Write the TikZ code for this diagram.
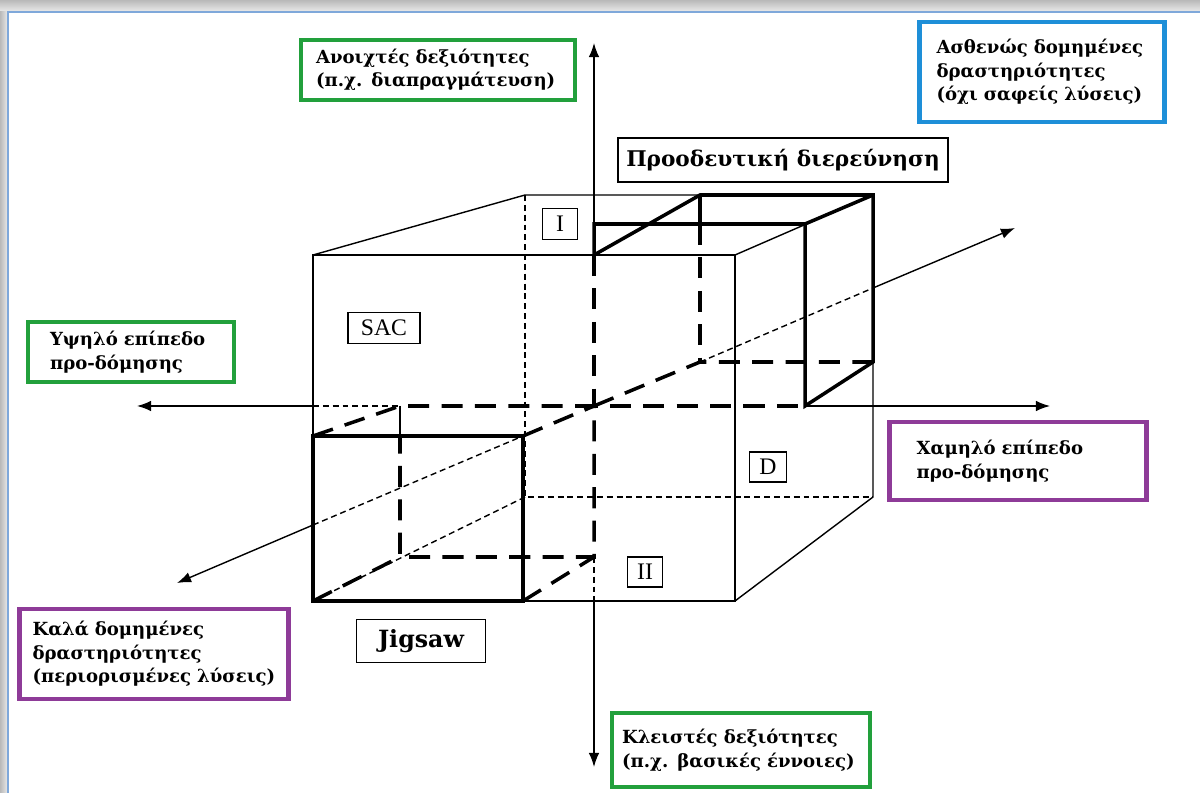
\documentclass[tikz,border=0pt]{standalone}
\usepackage{fontspec}
\setmainfont{DejaVu Serif}
\newfontfamily\quadfont{Liberation Serif}
\usetikzlibrary{arrows.meta}
\definecolor{boxgreen}{HTML}{22A03C}
\definecolor{boxblue}{HTML}{1E8FD8}
\definecolor{boxpurple}{HTML}{8E3B98}
\definecolor{frameblue}{HTML}{7FA8DA}

\tikzset{
  cubeline/.style={line width=0.8pt},
  cubehidden/.style={line width=0.8pt, dash pattern=on 3.4pt off 2.2pt},
  heavy/.style={line width=2pt},
  heavydash/.style={line width=2pt, dash pattern=on 12pt off 7pt},
  axis/.style={line width=0.8pt, -{Latex[length=8pt,width=6pt]}},
  legend/.style={draw, line width=2.4pt, fill=white, align=left,
    font=\bfseries\fontsize{10.3}{13.4}\selectfont},
  tag/.style={draw, line width=0.9pt, fill=white,
    font=\bfseries\fontsize{12.3}{15}\selectfont},
  quad/.style={draw, line width=0.7pt, inner sep=0pt,
    font=\quadfont\fontsize{13.5}{15}\selectfont},
}

\begin{document}
\begin{tikzpicture}[x=0.02cm, y=-0.02cm]
    \useasboundingbox (0,0) rectangle (1200,793);

    % Window frame
    \shade[top color=gray!55, bottom color=gray!15] (0,0) rectangle (1200,12);
    \shade[left color=gray!55, right color=gray!15] (0,12) rectangle (8,793);
    \draw[frameblue, line width=0.8pt] (8,793) -- (8,12) -- (1200,12);

    % Big cube corners
    \coordinate (FTL) at (313,255);
    \coordinate (FTR) at (735,255);
    \coordinate (FBR) at (735,601);
    \coordinate (FBL) at (313,601);
    \coordinate (BTL) at (525,195);
    \coordinate (BTR) at (873,195);
    \coordinate (BBR) at (873,497);
    \coordinate (BBL) at (525,497);

    % Axes ends
    \coordinate (O) at (594,406);
    \coordinate (AU) at (594,43);
    \coordinate (AD) at (594,767);
    \coordinate (AL) at (137,406);
    \coordinate (AR) at (1050,406);
    \coordinate (AN) at (177,583);
    \coordinate (AF) at (1015,228);
    \coordinate (DN) at (313,525);
    \coordinate (DF) at (873,288);

    % Jigsaw cube corners
    \coordinate (jFTL) at (313,436);
    \coordinate (jFTR) at (523,436);
    \coordinate (jFBR) at (523,601);
    \coordinate (jBTL) at (400,406);
    \coordinate (jBBR) at (594,557);
    \coordinate (jBBL) at (400,557);

    % Progressive cube corners
    \coordinate (pFTL) at (594,224);
    \coordinate (pFTR) at (805,224);
    \coordinate (pFBR) at (805,406);
    \coordinate (pBTL) at (700,195);
    \coordinate (pBTR) at (873,195);
    \coordinate (pBBR) at (873,362);
    \coordinate (pBBL) at (700,362);

    % Big cube
    \draw[cubeline] (FTL) -- (FTR) -- (FBR) -- (FBL) -- cycle;
    \draw[cubeline] (FTL) -- (BTL) -- (BTR) -- (BBR) -- (FBR);
    \draw[cubeline] (FTR) -- (BTR);
    \draw[cubehidden] (BTL) -- (BBL) -- (BBR);
    \draw[cubehidden] (BBL) -- (FBL);

    % Axes
    \draw[axis] (pFTL) -- (AU);
    \draw[axis] (O |- FBL) -- (AD);
    \draw[axis] (FTL |- O) -- (AL);
    \draw[axis] (pFBR) -- (AR);
    \draw[axis] (DN) -- (AN);
    \draw[axis] (DF) -- (AF);
    \draw[cubehidden] (FTL |- O) -- (jBTL);
    \draw[cubehidden] (jBBR) -- (O |- FBL);
    \draw[cubehidden] (DN) -- (jFTR);
    \draw[cubehidden] (pBBL) -- (DF);

    % Jigsaw cube
    \draw[heavy] (jFTL) -- (jFTR) -- (jFBR) -- (FBL) -- cycle;
    \draw[line width=1.2pt] (jBTL) -- (jBTL |- jFTL);
    \draw[heavydash] (jFTL) -- (jBTL) -- (O) -- (jBBR) -- (jBBL) -- (jBTL |- jFTL);
    \draw[heavydash] (FBL) -- (jBBL);
    \draw[heavydash] (jFBR) -- (jBBR);
    \draw[heavydash] (jFTR) -- (O);

    % Progressive cube
    \draw[heavy] (O |- FTL) -- (pFTL) -- (pFTR) -- (pFBR) -- (pBBR) -- (pBTR) -- (pBTL) -- cycle;
    \draw[heavy] (pFTR) -- (pBTR);
    \draw[heavy] (pBTL) -- (pBTL |- pFTL);
    \draw[heavydash] (O |- FTL) -- (O) -- (pFBR);
    \draw[heavydash] (O) -- (pBBL) -- (pBBR);
    \draw[heavydash] (pBTL |- pFTL) -- (pBBL);

    % Quadrant tags
    \node[quad, minimum width=1.44cm, minimum height=0.62cm] (sac) at (384,328) {SAC};
    \node[quad, minimum width=0.7cm, minimum height=0.62cm] (qI) at (560,224) {I};
    \node[quad, minimum width=0.74cm, minimum height=0.6cm] (qD) at (768,467) {D};
    \node[quad, minimum width=0.7cm, minimum height=0.6cm] (qII) at (645,572) {II};

    % Method tags
    \node[tag, minimum width=6.6cm, minimum height=0.88cm] (prog) at (783,160) {Προοδευτική διερεύνηση};
    \node[tag, minimum width=2.58cm, minimum height=0.86cm, font=\bfseries\fontsize{13.5}{15}\selectfont] (jig) at (421,641) {Jigsaw};

    % Legends
    \node[legend, draw=boxgreen, text width=4.88cm, inner xsep=0.3cm, minimum height=1.2cm] (open) at (438,70)
        {Ανοιχτές δεξιότητες\\(π.χ. διαπραγμάτευση)};
    \node[legend, draw=boxblue, text width=4.22cm, inner xsep=0.34cm, minimum height=2cm] (weak) at (1042,72)
        {Ασθενώς δομημένες\\δραστηριότητες\\(όχι σαφείς λύσεις)};
    \node[legend, draw=boxgreen, text width=3.24cm, inner xsep=0.44cm, minimum height=1.2cm] (high) at (131,352)
        {Υψηλό επίπεδο\\προ-δόμησης};
    \node[legend, draw=boxpurple, text width=4.06cm, inner xsep=0.54cm, minimum height=1.56cm] (low) at (1018,461)
        {Χαμηλό επίπεδο\\προ-δόμησης};
    \node[legend, draw=boxpurple, text width=4.86cm, inner xsep=0.26cm, minimum height=1.8cm] (well) at (154,654)
        {Καλά δομημένες\\δραστηριότητες\\(περιορισμένες λύσεις)};
    \node[legend, draw=boxgreen, text width=4.76cm, inner xsep=0.2cm, minimum height=1.48cm] (closed) at (741,750)
        {Κλειστές δεξιότητες\\(π.χ. βασικές έννοιες)};
\end{tikzpicture}
\end{document}
